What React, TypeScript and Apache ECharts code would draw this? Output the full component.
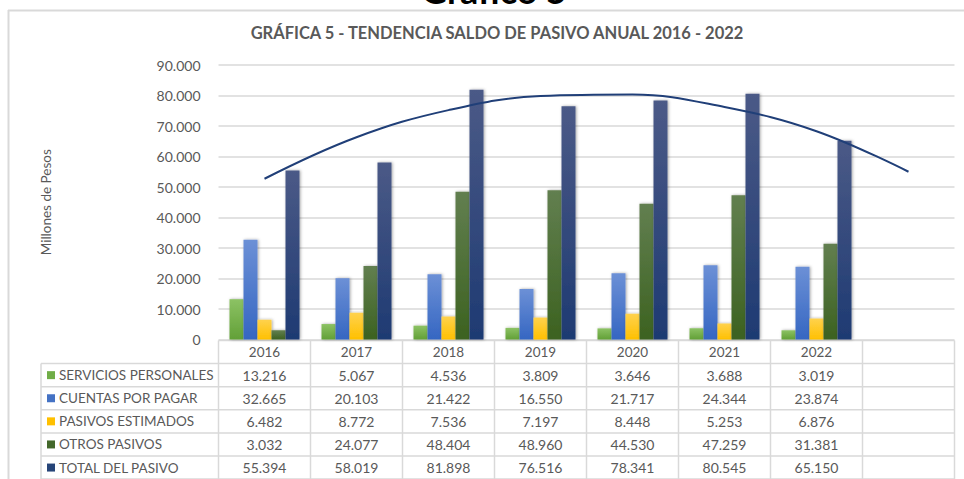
import React, { useEffect, useRef } from "react";
import * as echarts from "echarts";

const categories = ["2016", "2017", "2018", "2019", "2020", "2021", "2022", ""];
const seriesNames = [
  "SERVICIOS PERSONALES",
  "CUENTAS POR PAGAR",
  "PASIVOS ESTIMADOS",
  "OTROS PASIVOS",
  "TOTAL DEL PASIVO",
];
const servicios = [13216, 5067, 4536, 3809, 3646, 3688, 3019];
const cuentas = [32665, 20103, 21422, 16550, 21717, 24344, 23874];
const estimados = [6482, 8772, 7536, 7197, 8448, 5253, 6876];
const otros = [3032, 24077, 48404, 48960, 44530, 47259, 31381];
const total = [55394, 58019, 81898, 76516, 78341, 80545, 65150];
// polynomial trendline of TOTAL
const trend = [52700, 66300, 75200, 79800, 80300, 76200, 68300, 55000];
const yTicks = [0, 10000, 20000, 30000, 40000, 50000, 60000, 70000, 80000, 90000];

const allSeries = [servicios, cuentas, estimados, otros, total];
const baseColors = ["#70ad47", "#4472c4", "#ffc000", "#43682b", "#264478"];
const topColors = ["#8cc264", "#6c90d6", "#ffd24d", "#627f50", "#4b5a87"];
const bottomColors = ["#62a037", "#3566c2", "#ffc000", "#3c6220", "#1e3a72"];

const FONT = "Lato, 'Open Sans', sans-serif";
const TXT = "#595959";
const LINE = "#d9d9d9";

const fmt = (n: number) => String(n).replace(/\B(?=(\d{3})+(?!\d))/g, ".");

export default function App() {
  const ref = useRef<HTMLDivElement>(null);
  useEffect(() => {
    const chart = echarts.init(ref.current!, null, { renderer: "svg" });
    const W = 964;
    const plotL = 218.5;
    const plotR = 954.5;
    const colW = (plotR - plotL) / categories.length;
    const tableTop = 340.5;
    const rowH = 23.1;
    const tableL = 41;

    const g: any[] = [];
    // frame
    g.push({ type: "line", shape: { x1: 8, y1: 10.5, x2: W, y2: 10.5 }, style: { stroke: LINE, lineWidth: 2 } });
    g.push({ type: "line", shape: { x1: 8.5, y1: 10, x2: 8.5, y2: 479 }, style: { stroke: LINE, lineWidth: 2 } });
    g.push({
      type: "text",
      x: 494,
      y: 8,
      style: { text: "Gráfico 5", font: `bold 36px ${FONT}`, fill: "#000", align: "center", verticalAlign: "bottom" },
    });
    // table horizontal lines
    for (let r = 0; r <= seriesNames.length + 1; r++) {
      const y = tableTop + r * rowH;
      g.push({
        type: "line",
        shape: { x1: r === 0 ? plotL : tableL, y1: y, x2: plotR, y2: y },
        style: { stroke: LINE, lineWidth: 1.5 },
      });
    }
    // vertical lines
    const bottom = tableTop + (seriesNames.length + 1) * rowH;
    g.push({ type: "line", shape: { x1: tableL, y1: tableTop + rowH, x2: tableL, y2: bottom }, style: { stroke: LINE, lineWidth: 1.5 } });
    for (let c = 0; c <= categories.length; c++) {
      const x = plotL + c * colW;
      g.push({ type: "line", shape: { x1: x, y1: tableTop, x2: x, y2: bottom }, style: { stroke: LINE, lineWidth: 1.5 } });
    }
    // row labels and values
    seriesNames.forEach((name, i) => {
      const cy = tableTop + (i + 1.5) * rowH;
      g.push({ type: "rect", shape: { x: 47, y: cy - 4, width: 8, height: 8 }, style: { fill: baseColors[i] } });
      g.push({
        type: "text",
        x: 59,
        y: cy,
        style: { text: name, font: `13.5px ${FONT}`, fill: TXT, align: "left", verticalAlign: "middle" },
      });
      allSeries[i].forEach((v, j) => {
        g.push({
          type: "text",
          x: plotL + (j + 0.5) * colW,
          y: cy,
          style: { text: fmt(v), font: `14px ${FONT}`, fill: TXT, align: "center", verticalAlign: "middle" },
        });
      });
    });

    const barSeries = allSeries.map((d, i) => ({
      type: "bar",
      name: seriesNames[i],
      data: d,
      barWidth: 14,
      barGap: "0%",
      itemStyle: {
        color: new echarts.graphic.LinearGradient(0, 0, 0, 1, [
          { offset: 0, color: topColors[i] },
          { offset: 1, color: bottomColors[i] },
        ]),
        shadowColor: "rgba(0,0,0,0.35)",
        shadowBlur: 3,
        shadowOffsetX: 1,
        shadowOffsetY: 0,
      },
    }));

    chart.setOption({
      animation: false,
      title: {
        text: "GRÁFICA 5 - TENDENCIA SALDO DE PASIVO ANUAL 2016 - 2022",
        left: 492,
        textAlign: "center",
        top: 19,
        textStyle: { fontFamily: FONT, fontSize: 16.5, fontWeight: "bold", color: TXT },
      },
      grid: { left: plotL, right: W - plotR, top: 65, bottom: 479 - 339.5 },
      xAxis: {
        type: "category",
        data: categories,
        axisLine: { show: false },
        axisTick: { show: false },
        axisLabel: { color: TXT, fontFamily: FONT, fontSize: 13.5, margin: 5, interval: 0 },
      },
      yAxis: {
        type: "value",
        min: yTicks[0],
        max: yTicks[yTicks.length - 1],
        interval: yTicks[1] - yTicks[0],
        name: "Millones de Pesos",
        nameLocation: "middle",
        nameGap: 166,
        nameRotate: 90,
        nameTextStyle: { color: TXT, fontFamily: FONT, fontSize: 13.5 },
        axisLabel: { color: TXT, fontFamily: FONT, fontSize: 14, margin: 18, formatter: (v: number) => fmt(v) },
        splitLine: { lineStyle: { color: LINE, width: 1.5 } },
        axisLine: { show: false },
        axisTick: { show: false },
      },
      series: [
        ...barSeries,
        {
          type: "line",
          name: "Tendencia",
          data: trend,
          smooth: 0.4,
          symbol: "none",
          lineStyle: { color: "#203f78", width: 2 },
          z: 5,
        },
      ],
      graphic: g,
    });
    return () => chart.dispose();
  }, []);
  return <div ref={ref} style={{ position: "absolute", left: 0, top: 0, width: 964, height: 479 }} />;
}
